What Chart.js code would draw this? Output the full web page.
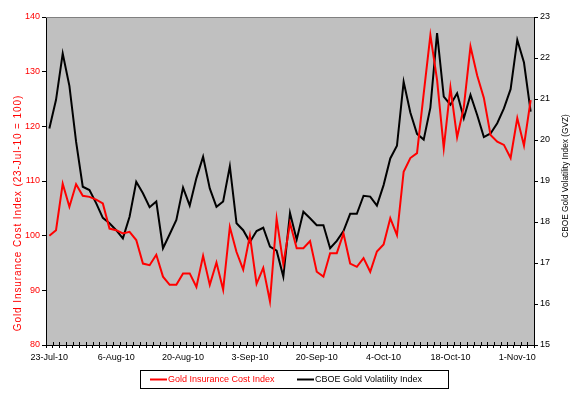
<!DOCTYPE html>
<html>
<head>
<meta charset="utf-8">
<script src="https://cdn.jsdelivr.net/npm/chart.js@4/dist/chart.umd.min.js"></script>
<style>
  html,body{margin:0;padding:0;background:#fff;}
  #wrap{position:relative;width:577px;height:395px;}
</style>
</head>
<body>
<div id="wrap"><canvas id="c" width="577" height="395"></canvas></div>
<script>
// Trading days, 23-Jul-10 .. 3-Nov-10 (every 10th is labelled)
const dates = [
  '23-Jul-10','26-Jul-10','27-Jul-10','28-Jul-10','29-Jul-10','30-Jul-10',
  '2-Aug-10','3-Aug-10','4-Aug-10','5-Aug-10','6-Aug-10',
  '9-Aug-10','10-Aug-10','11-Aug-10','12-Aug-10','13-Aug-10',
  '16-Aug-10','17-Aug-10','18-Aug-10','19-Aug-10','20-Aug-10',
  '23-Aug-10','24-Aug-10','25-Aug-10','26-Aug-10','27-Aug-10',
  '30-Aug-10','31-Aug-10','1-Sep-10','2-Sep-10','3-Sep-10',
  '7-Sep-10','8-Sep-10','9-Sep-10','10-Sep-10',
  '13-Sep-10','14-Sep-10','15-Sep-10','16-Sep-10','17-Sep-10',
  '20-Sep-10','21-Sep-10','22-Sep-10','23-Sep-10','24-Sep-10',
  '27-Sep-10','28-Sep-10','29-Sep-10','30-Sep-10','1-Oct-10',
  '4-Oct-10','5-Oct-10','6-Oct-10','7-Oct-10','8-Oct-10',
  '11-Oct-10','12-Oct-10','13-Oct-10','14-Oct-10','15-Oct-10',
  '18-Oct-10','19-Oct-10','20-Oct-10','21-Oct-10','22-Oct-10',
  '25-Oct-10','26-Oct-10','27-Oct-10','28-Oct-10','29-Oct-10',
  '1-Nov-10','2-Nov-10','3-Nov-10'
];

// Gold insurance cost index (left axis, 23-Jul-10 = 100)
const insuranceIdx = [
  100.0,101.0,109.5,105.3,109.4,107.3,107.1,106.6,105.9,101.3,
  101.0,100.4,100.7, 99.2, 94.9, 94.6, 96.5, 92.5, 91.0, 91.0,
   93.1, 93.1, 90.6, 96.3, 91.0, 95.1, 90.1,101.6, 97.0, 93.8,
  100.0, 91.2, 94.1, 88.0,103.1, 94.8,102.3, 97.7, 97.7, 99.0,
   93.4, 92.5, 96.8, 96.8,100.4, 94.9, 94.3, 95.9, 93.4, 97.1,
   98.4,103.2,100.1,111.7,114.2,115.1,126.0,136.7,128.5,116.0,
  127.1,118.0,123.5,134.6,129.3,125.2,118.4,117.2,116.6,114.2,
  121.5,116.5,124.8
];

// CBOE gold volatility index, GVZ (right axis)
const gvz = [
  20.28,20.98,22.11,21.32,19.96,18.86,18.78,18.46,18.10,17.97,
  17.80,17.60,18.13,18.98,18.70,18.36,18.50,17.36,17.70,18.05,
  18.84,18.40,19.07,19.59,18.82,18.37,18.50,19.36,17.97,17.80,
  17.51,17.78,17.86,17.40,17.30,16.67,18.22,17.57,18.25,18.09,
  17.92,17.92,17.36,17.54,17.78,18.20,18.20,18.64,18.62,18.40,
  18.90,19.55,19.86,21.42,20.67,20.15,20.01,20.79,22.61,21.06,
  20.86,21.14,20.53,21.10,20.61,20.07,20.16,20.41,20.77,21.24,
  22.44,21.89,20.69
];

const leftTitle = 'Gold Insurance Cost Index (23-Jul-10 = 100)';
const rightTitle = 'CBOE Gold Volatility Index (GVZ)';
const seriesNames = ['Gold Insurance Cost Index', 'CBOE Gold Volatility Index'];

const FONT = '"Liberation Sans", Arial, sans-serif';
const RED = '#ff0000';

// plot background, top border, inner half of x tick marks, axis titles, legend
const decor = {
  id: 'decor',
  beforeDraw(chart){
    const {ctx, chartArea:a} = chart;
    ctx.save();
    ctx.fillStyle = '#c0c0c0';
    ctx.fillRect(a.left, a.top, a.right-a.left, a.bottom-a.top);
    ctx.restore();
  },
  beforeDatasetsDraw(chart){
    const {ctx, chartArea:a, scales} = chart;
    const xs = scales.x;
    const half = (xs.getPixelForValue(1) - xs.getPixelForValue(0))/2;
    ctx.save();
    ctx.strokeStyle = '#000';
    ctx.lineWidth = 1;
    ctx.beginPath();
    for (let i=0;i<=dates.length;i++){
      const x = Math.round(xs.getPixelForValue(i) - half) + 0.5;
      ctx.moveTo(x, a.bottom); ctx.lineTo(x, a.bottom-3);
    }
    ctx.stroke();
    ctx.strokeStyle = '#808080';
    ctx.beginPath();
    ctx.moveTo(a.left, a.top+0.5); ctx.lineTo(a.right, a.top+0.5);
    ctx.stroke();
    ctx.restore();
  },
  afterDraw(chart){
    const {ctx} = chart;
    ctx.save();
    // axis titles
    ctx.textAlign = 'center';
    ctx.textBaseline = 'middle';
    ctx.translate(18, 213);
    ctx.rotate(-Math.PI/2);
    ctx.fillStyle = RED;
    ctx.font = '10px ' + FONT;
    ctx.letterSpacing = '0.9px';
    ctx.fillText(leftTitle, 0, 0);
    ctx.restore();

    ctx.save();
    ctx.textAlign = 'center';
    ctx.textBaseline = 'middle';
    ctx.translate(566, 176);
    ctx.rotate(-Math.PI/2);
    ctx.fillStyle = '#000';
    ctx.font = '8.3px ' + FONT;
    ctx.fillText(rightTitle, 0, 0);
    ctx.restore();

    // legend box
    ctx.save();
    ctx.fillStyle = '#fff';
    ctx.strokeStyle = '#000';
    ctx.lineWidth = 1;
    ctx.fillRect(140, 370, 308, 18);
    ctx.strokeRect(140.5, 370.5, 308, 18);
    ctx.font = '9px ' + FONT;
    ctx.textBaseline = 'middle';
    ctx.lineWidth = 2;
    ctx.strokeStyle = RED;
    ctx.beginPath(); ctx.moveTo(150, 379.5); ctx.lineTo(167, 379.5); ctx.stroke();
    ctx.fillStyle = RED;
    ctx.fillText(seriesNames[0], 168, 380);
    ctx.strokeStyle = '#000';
    ctx.beginPath(); ctx.moveTo(297, 379.5); ctx.lineTo(314, 379.5); ctx.stroke();
    ctx.fillStyle = '#000';
    ctx.fillText(seriesNames[1], 315, 380);
    ctx.restore();
  }
};

new Chart(document.getElementById('c').getContext('2d'), {
  type: 'line',
  data: {
    labels: dates,
    datasets: [
      { label: seriesNames[0], data: insuranceIdx, yAxisID: 'y', borderColor: RED, borderWidth: 2, pointRadius: 0, tension: 0 },
      { label: seriesNames[1], data: gvz, yAxisID: 'y1', borderColor: '#000', borderWidth: 2, pointRadius: 0, tension: 0 }
    ]
  },
  options: {
    responsive: false,
    animation: false,
    layout: { padding: { top: 17, left: 0, right: 0, bottom: 0 } },
    plugins: { legend: { display: false }, tooltip: { enabled: false } },
    scales: {
      x: {
        offset: true,
        afterFit: s => { s.height = 50; },
        border: { color: '#000', width: 1 },
        grid: { offset: true, drawOnChartArea: false, color: '#000', tickLength: 3 },
        ticks: {
          autoSkip: false, maxRotation: 0, minRotation: 0, padding: 4,
          color: '#000', font: { family: FONT, size: 9 },
          callback: (v, i) => i % 10 === 0 ? dates[i] : ''
        }
      },
      y: {
        position: 'left', min: 80, max: 140,
        afterFit: s => { s.width = 46; },
        border: { color: '#000', width: 1 },
        grid: { drawOnChartArea: false, color: '#000', tickLength: 4 },
        ticks: { stepSize: 10, padding: 2, color: RED, font: { family: FONT, size: 9 } }
      },
      y1: {
        position: 'right', min: 15, max: 23,
        afterFit: s => { s.width = 43; },
        border: { color: '#000', width: 1 },
        grid: { drawOnChartArea: false, color: '#000', tickLength: 4 },
        ticks: { stepSize: 1, padding: 2, color: '#000', font: { family: FONT, size: 9 } }
      }
    }
  },
  plugins: [decor]
});
</script>
</body>
</html>
